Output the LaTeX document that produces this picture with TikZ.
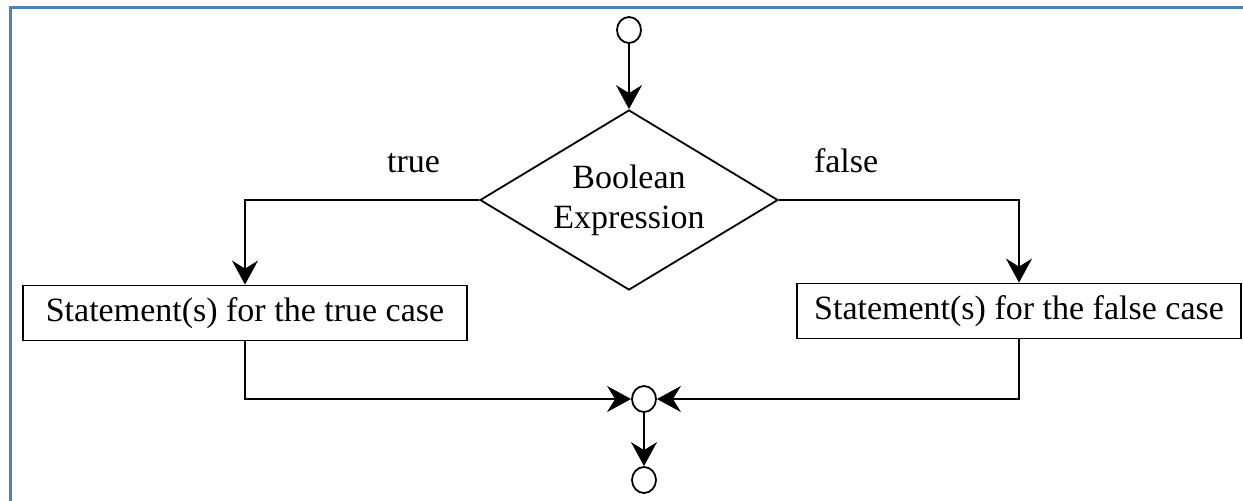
\documentclass[tikz,border=0pt]{standalone}
\usepackage{fontspec}
\setmainfont{Liberation Serif}
\usetikzlibrary{arrows.meta, shapes.geometric}
\definecolor{frameblue}{RGB}{79,129,189}

\begin{document}
\begin{tikzpicture}[
    x=0.5pt, y=-0.5pt,
    every node/.style={font=\fontsize{17}{20}\selectfont},
    junction/.style={draw, ellipse, minimum width=12pt, minimum height=13pt, inner sep=0pt, line width=0.9pt},
    decision/.style={draw, diamond, aspect=1.66, minimum width=149pt, minimum height=90pt, inner sep=0pt, align=center, line width=0.9pt},
    stmt/.style={draw, rectangle, minimum width=222pt, minimum height=27.5pt, line width=0.9pt},
    arrow/.style={-{Stealth[length=12pt, width=13pt, inset=4pt]}, line width=0.9pt}
]
    \useasboundingbox (0,0) rectangle (1243,500);
    \clip (0,0) rectangle (1243,500);
    \draw[frameblue, line width=1.5pt] (10.5,7) rectangle (1260,520);

    \node[junction] (start) at (629,30) {};
    \node[decision] (cond) at (629,200) {Boolean\\Expression};
    \node[stmt] (tbox) at (245,313) {Statement(s) for the true case};
    \node[stmt] (fbox) at (1019,311) {Statement(s) for the false case};
    \node[junction] (join) at (644,399) {};
    \node[junction] (stop) at (644,480) {};

    \draw[arrow] (start) -- (cond.north);
    \draw[arrow] (cond.west) -| node[pos=0.14, above=10pt] {true} (tbox.north);
    \draw[arrow] (cond.east) -| node[pos=0.14, above=10pt] {false} (fbox.north);
    \draw[arrow] (tbox.south) |- (join.west);
    \draw[arrow] (fbox.south) |- (join.east);
    \draw[arrow] (join) -- (stop);
\end{tikzpicture}
\end{document}
